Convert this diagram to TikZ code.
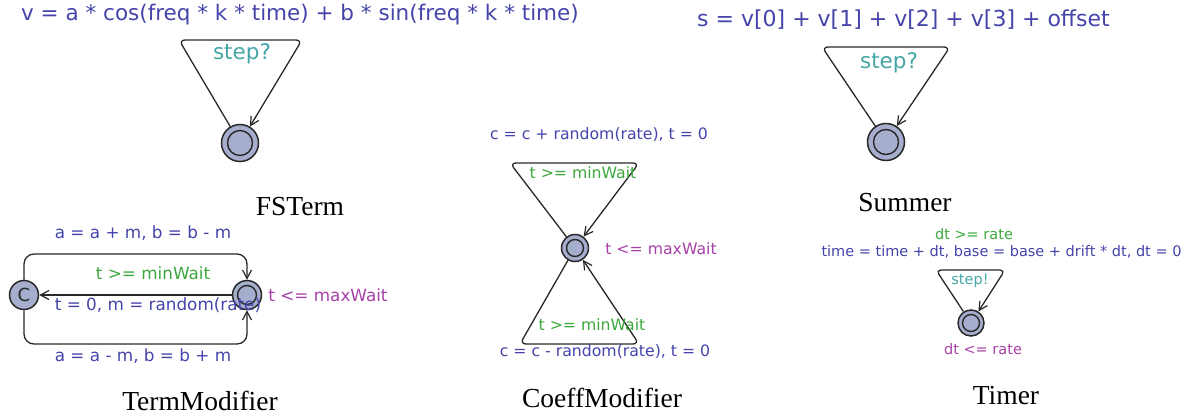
\documentclass[tikz,border=0pt]{standalone}
\usepackage{fontspec}
\setmainfont{Liberation Serif}
\newfontfamily\uf{DejaVu Sans}
\usetikzlibrary{arrows.meta}
\definecolor{asgC}{RGB}{68,68,170}
\definecolor{grdC}{RGB}{60,168,60}
\definecolor{synC}{RGB}{70,166,166}
\definecolor{invC}{RGB}{166,64,166}
\definecolor{locC}{RGB}{166,174,206}
\definecolor{lnC}{RGB}{40,40,40}
\begin{document}
\begin{tikzpicture}[x=1pt,y=-1pt,
  loc/.style 2 args={circle, draw=lnC, fill=locC, line width=1.5pt, minimum size=#1, inner sep=0pt,
    path picture={\draw[lnC,line width=1.4pt] (path picture bounding box.center) circle[radius=#2];}},
  cloc/.style={circle, draw=lnC, fill=locC, line width=1.5pt, minimum size=#1, inner sep=0pt},
  edge/.style={draw=lnC, line width=1.3pt, rounded corners=#1},
  edge/.default=6pt,
  arr/.style={-{Straight Barb[length=8.5pt,width=9pt,line width=1.2pt]}},
  fa/.style={font=\uf\fontsize{21.5}{24}\selectfont, inner sep=0pt},
  fb/.style={font=\uf\fontsize{16.8}{19}\selectfont, inner sep=0pt},
  fc/.style={font=\uf\fontsize{15.7}{18}\selectfont, inner sep=0pt},
  fd/.style={font=\uf\fontsize{14.5}{17}\selectfont, inner sep=0pt},
  captxt/.style={font=\fontsize{27.5}{30}\selectfont, inner sep=0pt},
]
\useasboundingbox (0,0) rectangle (1190,417);

% ---------- FSTerm ----------
\node[fa, text=asgC] (fsF) at (300,15) {v = a * cos(freq * k * time) + b * sin(freq * k * time)};
\node[loc={37pt}{12.5pt}] (fs) at (240,143) {};
\coordinate (fsA) at (179,40);
\coordinate (fsB) at (302,40);
\draw[edge,arr] (fs) -- (fsA) -- (fsB) -- (fs);
\node[fa, text=synC] (fsS) at (242,54) {step?};
\node[captxt] (fsCap) at (300,207) {FSTerm};

% ---------- Summer ----------
\node[fa, text=asgC, font=\uf\fontsize{22}{24}\selectfont] (smF) at (903.5,20) {s = v[0] + v[1] + v[2] + v[3] + offset};
\node[loc={37pt}{12.5pt}] (sm) at (886,142) {};
\coordinate (smA) at (822,47);
\coordinate (smB) at (950,47);
\draw[edge,arr] (sm) -- (smA) -- (smB) -- (sm);
\node[fa, text=synC] (smS) at (889,63) {step?};
\node[captxt] (smCap) at (905,203) {Summer};

% ---------- TermModifier ----------
\node[cloc=29pt, font=\uf\fontsize{18}{20}\selectfont, text=lnC] (tC) at (24,295) {C};
\node[loc={29pt}{9.5pt}] (tL) at (247,295) {};
\coordinate (tA) at (24,254);
\coordinate (tB) at (247,254);
\coordinate (tD) at (24,344);
\coordinate (tE) at (247,344);
\draw[edge=10pt,arr] (tC) -- (tA) -- (tB) -- (tL);
\draw[edge=10pt,arr] (tC) -- (tD) -- (tE) -- (tL);
\draw[edge,arr] (tL) -- (tC);
\node[fb, text=asgC] (tTop) at (143,233) {a = a + m, b = b - m};
\node[fb, text=grdC] (tG) at (153,273) {t >= minWait};
\node[fb, text=asgC] (tMid) at (158,305) {t = 0, m = random(rate)};
\node[fb, text=asgC] (tBot) at (143,356) {a = a - m, b = b + m};
\node[fb, text=invC] (tInv) at (328,295) {t <= maxWait};
\node[captxt] (tCap) at (200,401) {TermModifier};

% ---------- CoeffModifier ----------
\node[loc={27pt}{8.5pt}] (cm) at (575,248) {};
\coordinate (cA) at (510,163);
\coordinate (cB) at (639,163);
\coordinate (cC) at (520,344);
\coordinate (cD) at (639,344);
\draw[edge,arr] (cm) -- (cA) -- (cB) -- (cm);
\draw[edge,arr] (cm) -- (cC) -- (cD) -- (cm);
\node[fc, text=asgC] (cTop) at (599,135) {c = c + random(rate), t = 0};
\node[fc, text=grdC] (cG1) at (583,173) {t >= minWait};
\node[fc, text=invC] (cInv) at (661,249) {t <= maxWait};
\node[fc, text=grdC] (cG2) at (592,325) {t >= minWait};
\node[fc, text=asgC] (cBot) at (605,352) {c = c - random(rate), t = 0};
\node[captxt] (cCap) at (602,398) {CoeffModifier};

% ---------- Timer ----------
\node[loc={26pt}{8.5pt}] (tm) at (971,323) {};
\coordinate (mA) at (936,270);
\coordinate (mB) at (1005,270);
\draw[edge=5pt,arr] (tm) -- (mA) -- (mB) -- (tm);
\node[fd, text=grdC] (mG) at (974,234) {dt >= rate};
\node[fd, text=asgC] (mAs) at (1001.5,252) {time = time + dt, base = base + drift * dt, dt = 0};
\node[fd, text=synC] (mS) at (970,281) {step!};
\node[fd, text=invC] (mInv) at (983,349) {dt <= rate};
\node[captxt] (mCap) at (1006,396) {Timer};
\end{tikzpicture}
\end{document}
